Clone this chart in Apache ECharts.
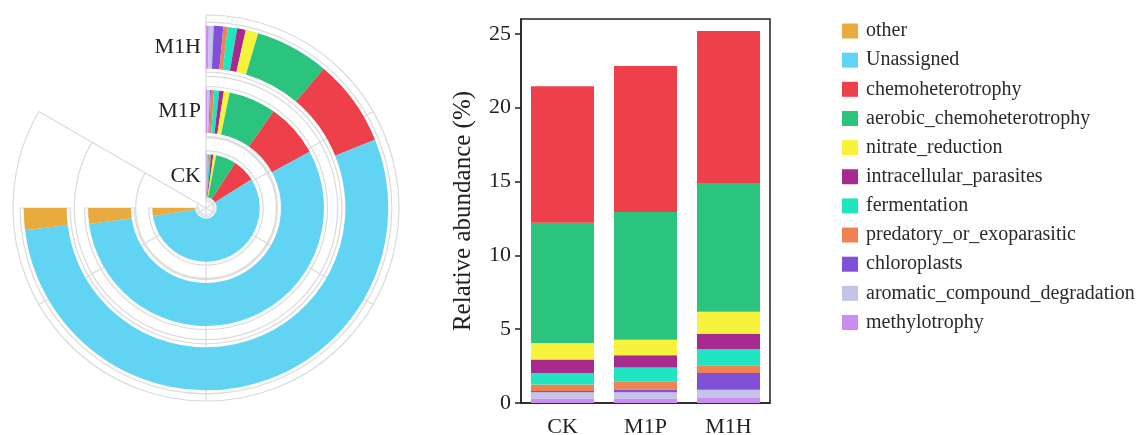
<!DOCTYPE html>
<html>
<head>
<meta charset="utf-8">
<script src="https://cdn.jsdelivr.net/npm/echarts@6/dist/echarts.min.js"></script>
<style>
  html, body { margin: 0; padding: 0; background: #ffffff; }
  #chart { width: 1142px; height: 435px; }
</style>
</head>
<body>
<div id="chart"></div>
<script>
// Relative abundance (%) of predicted functional groups per treatment
const categories = ['CK', 'M1P', 'M1H'];

const methylotrophy             = [0.30, 0.30, 0.34];
const aromaticCompoundDegr      = [0.42, 0.42, 0.56];
const chloroplasts              = [0.09, 0.19, 1.13];
const predatoryOrExoparasitic   = [0.44, 0.56, 0.52];
const fermentation              = [0.78, 0.93, 1.11];
const intracellularParasites    = [0.91, 0.83, 1.01];
const nitrateReduction          = [1.13, 1.06, 1.50];
const aerobicChemoheterotrophy  = [8.13, 8.65, 8.73];
const chemoheterotrophy         = [9.25, 9.87, 10.28];
const unassigned                = [75.35, 74.29, 72.22];
const other                     = [3.20, 2.90, 2.60];

const yTicks = [0, 5, 10, 15, 20, 25];

// stacking order, bottom (or start of the ring) first
const functionGroups = [
  ['methylotrophy', methylotrophy],
  ['aromatic_compound_degradation', aromaticCompoundDegr],
  ['chloroplasts', chloroplasts],
  ['predatory_or_exoparasitic', predatoryOrExoparasitic],
  ['fermentation', fermentation],
  ['intracellular_parasites', intracellularParasites],
  ['nitrate_reduction', nitrateReduction],
  ['aerobic_chemoheterotrophy', aerobicChemoheterotrophy],
  ['chemoheterotrophy', chemoheterotrophy]
];
const ringOnlyGroups = [
  ['Unassigned', unassigned],
  ['other', other]
];

const legendOrder = [
  'other', 'Unassigned', 'chemoheterotrophy', 'aerobic_chemoheterotrophy',
  'nitrate_reduction', 'intracellular_parasites', 'fermentation',
  'predatory_or_exoparasitic', 'chloroplasts', 'aromatic_compound_degradation',
  'methylotrophy'
];

const palette = {
  'other': '#E9AA40',
  'Unassigned': '#61D4F4',
  'chemoheterotrophy': '#EE404A',
  'aerobic_chemoheterotrophy': '#2BC47F',
  'nitrate_reduction': '#F7F23C',
  'intracellular_parasites': '#A92A8F',
  'fermentation': '#1FE6C1',
  'predatory_or_exoparasitic': '#EF8253',
  'chloroplasts': '#8050D8',
  'aromatic_compound_degradation': '#C4C4E8',
  'methylotrophy': '#CA8EF3'
};

const SERIF = '"Liberation Serif", "DejaVu Serif", serif';
const INK = '#222222';
const GRID_GRAY = '#dadada';

// ---- polar ring layout ----
const CENTER = [206, 208];
const OUTER_R = 193;
// a full 100 % ring spans 270 degrees of a 300 degree angular axis
const ANGLE_MAX = 100 * 300 / 270;

function angleAxisFor(index, showSpokes) {
  return {
    polarIndex: index,
    type: 'value',
    min: 0,
    max: ANGLE_MAX,
    interval: ANGLE_MAX / 5,
    startAngle: 90,
    endAngle: -210,
    clockwise: true,
    axisLine: { show: false },
    axisTick: { show: false },
    axisLabel: { show: false },
    splitLine: { show: showSpokes, lineStyle: { color: GRID_GRAY, width: 1.2 } }
  };
}

function radiusAxisFor(index, showLabels, showRings) {
  return {
    polarIndex: index,
    type: 'category',
    data: categories,
    axisLine: { show: false },
    axisTick: { show: false },
    axisLabel: {
      show: showLabels,
      fontFamily: SERIF,
      fontSize: 22,
      color: INK,
      margin: 5
    },
    splitLine: { show: showRings, lineStyle: { color: GRID_GRAY, width: 1.2 } }
  };
}

const ringTotals = categories.map((_, i) =>
  functionGroups.concat(ringOnlyGroups).reduce((s, g) => s + g[1][i], 0)
);

const series = [];

// band outlines behind each ring
series.push({
  name: 'band',
  type: 'bar',
  coordinateSystem: 'polar',
  polarIndex: 2,
  data: ringTotals,
  barWidth: 50,
  silent: true,
  z: 1,
  itemStyle: { color: 'rgba(255,255,255,0)', borderColor: GRID_GRAY, borderWidth: 1.2 }
});

// stacked rings
functionGroups.concat(ringOnlyGroups).forEach(([name, values]) => {
  series.push({
    name: name,
    type: 'bar',
    coordinateSystem: 'polar',
    polarIndex: 0,
    stack: 'ring',
    data: values,
    barWidth: 43,
    z: 3,
    itemStyle: { color: palette[name] }
  });
});

// stacked columns
functionGroups.forEach(([name, values]) => {
  series.push({
    name: name,
    type: 'bar',
    xAxisIndex: 0,
    yAxisIndex: 0,
    stack: 'column',
    data: values,
    barWidth: 63,
    itemStyle: { color: palette[name] }
  });
});

const option = {
  backgroundColor: '#ffffff',
  animation: false,
  polar: [
    { center: CENTER, radius: [0, OUTER_R] },
    { center: CENTER, radius: [9, OUTER_R] },
    { center: CENTER, radius: [0, OUTER_R] }
  ],
  angleAxis: [angleAxisFor(0, true), angleAxisFor(1, false), angleAxisFor(2, false)],
  radiusAxis: [radiusAxisFor(0, true, false), radiusAxisFor(1, false, true), radiusAxisFor(2, false, false)],
  grid: {
    left: 521, top: 19, width: 249, height: 384,
    outerBoundsMode: 'none',
    containLabel: false,
    show: true, borderColor: INK, borderWidth: 1.5
  },
  xAxis: {
    type: 'category',
    data: categories,
    axisLine: { lineStyle: { color: INK, width: 1.5 } },
    axisTick: { alignWithLabel: true, length: 7, lineStyle: { color: INK, width: 1.5 } },
    axisLabel: { fontFamily: SERIF, fontSize: 22, color: INK, margin: 13 }
  },
  yAxis: {
    type: 'value',
    min: 0,
    max: 26,
    interval: 5,
    name: 'Relative abundance (%)',
    nameLocation: 'middle',
    nameGap: 45,
    nameTextStyle: { fontFamily: SERIF, fontSize: 25, color: INK },
    axisLine: { show: true, lineStyle: { color: INK, width: 1.5 } },
    axisTick: { show: true, length: 6, customValues: yTicks, lineStyle: { color: INK, width: 1.5 } },
    axisLabel: {
      customValues: yTicks,
      fontFamily: SERIF, fontSize: 22, color: INK, margin: 10,
      formatter: v => (yTicks.indexOf(v) >= 0 ? String(v) : '')
    },
    splitLine: { show: false }
  },
  legend: {
    orient: 'vertical',
    left: 842,
    top: 21,
    padding: 0,
    icon: 'rect',
    itemWidth: 16,
    itemHeight: 15,
    itemGap: 9.15,
    data: legendOrder,
    textStyle: { fontFamily: SERIF, fontSize: 20, color: '#2a2a2a', padding: [0, 0, 0, 3] }
  },
  series: series
};

const chart = echarts.init(document.getElementById('chart'), null, { renderer: 'canvas' });
chart.setOption(option);
</script>
</body>
</html>
